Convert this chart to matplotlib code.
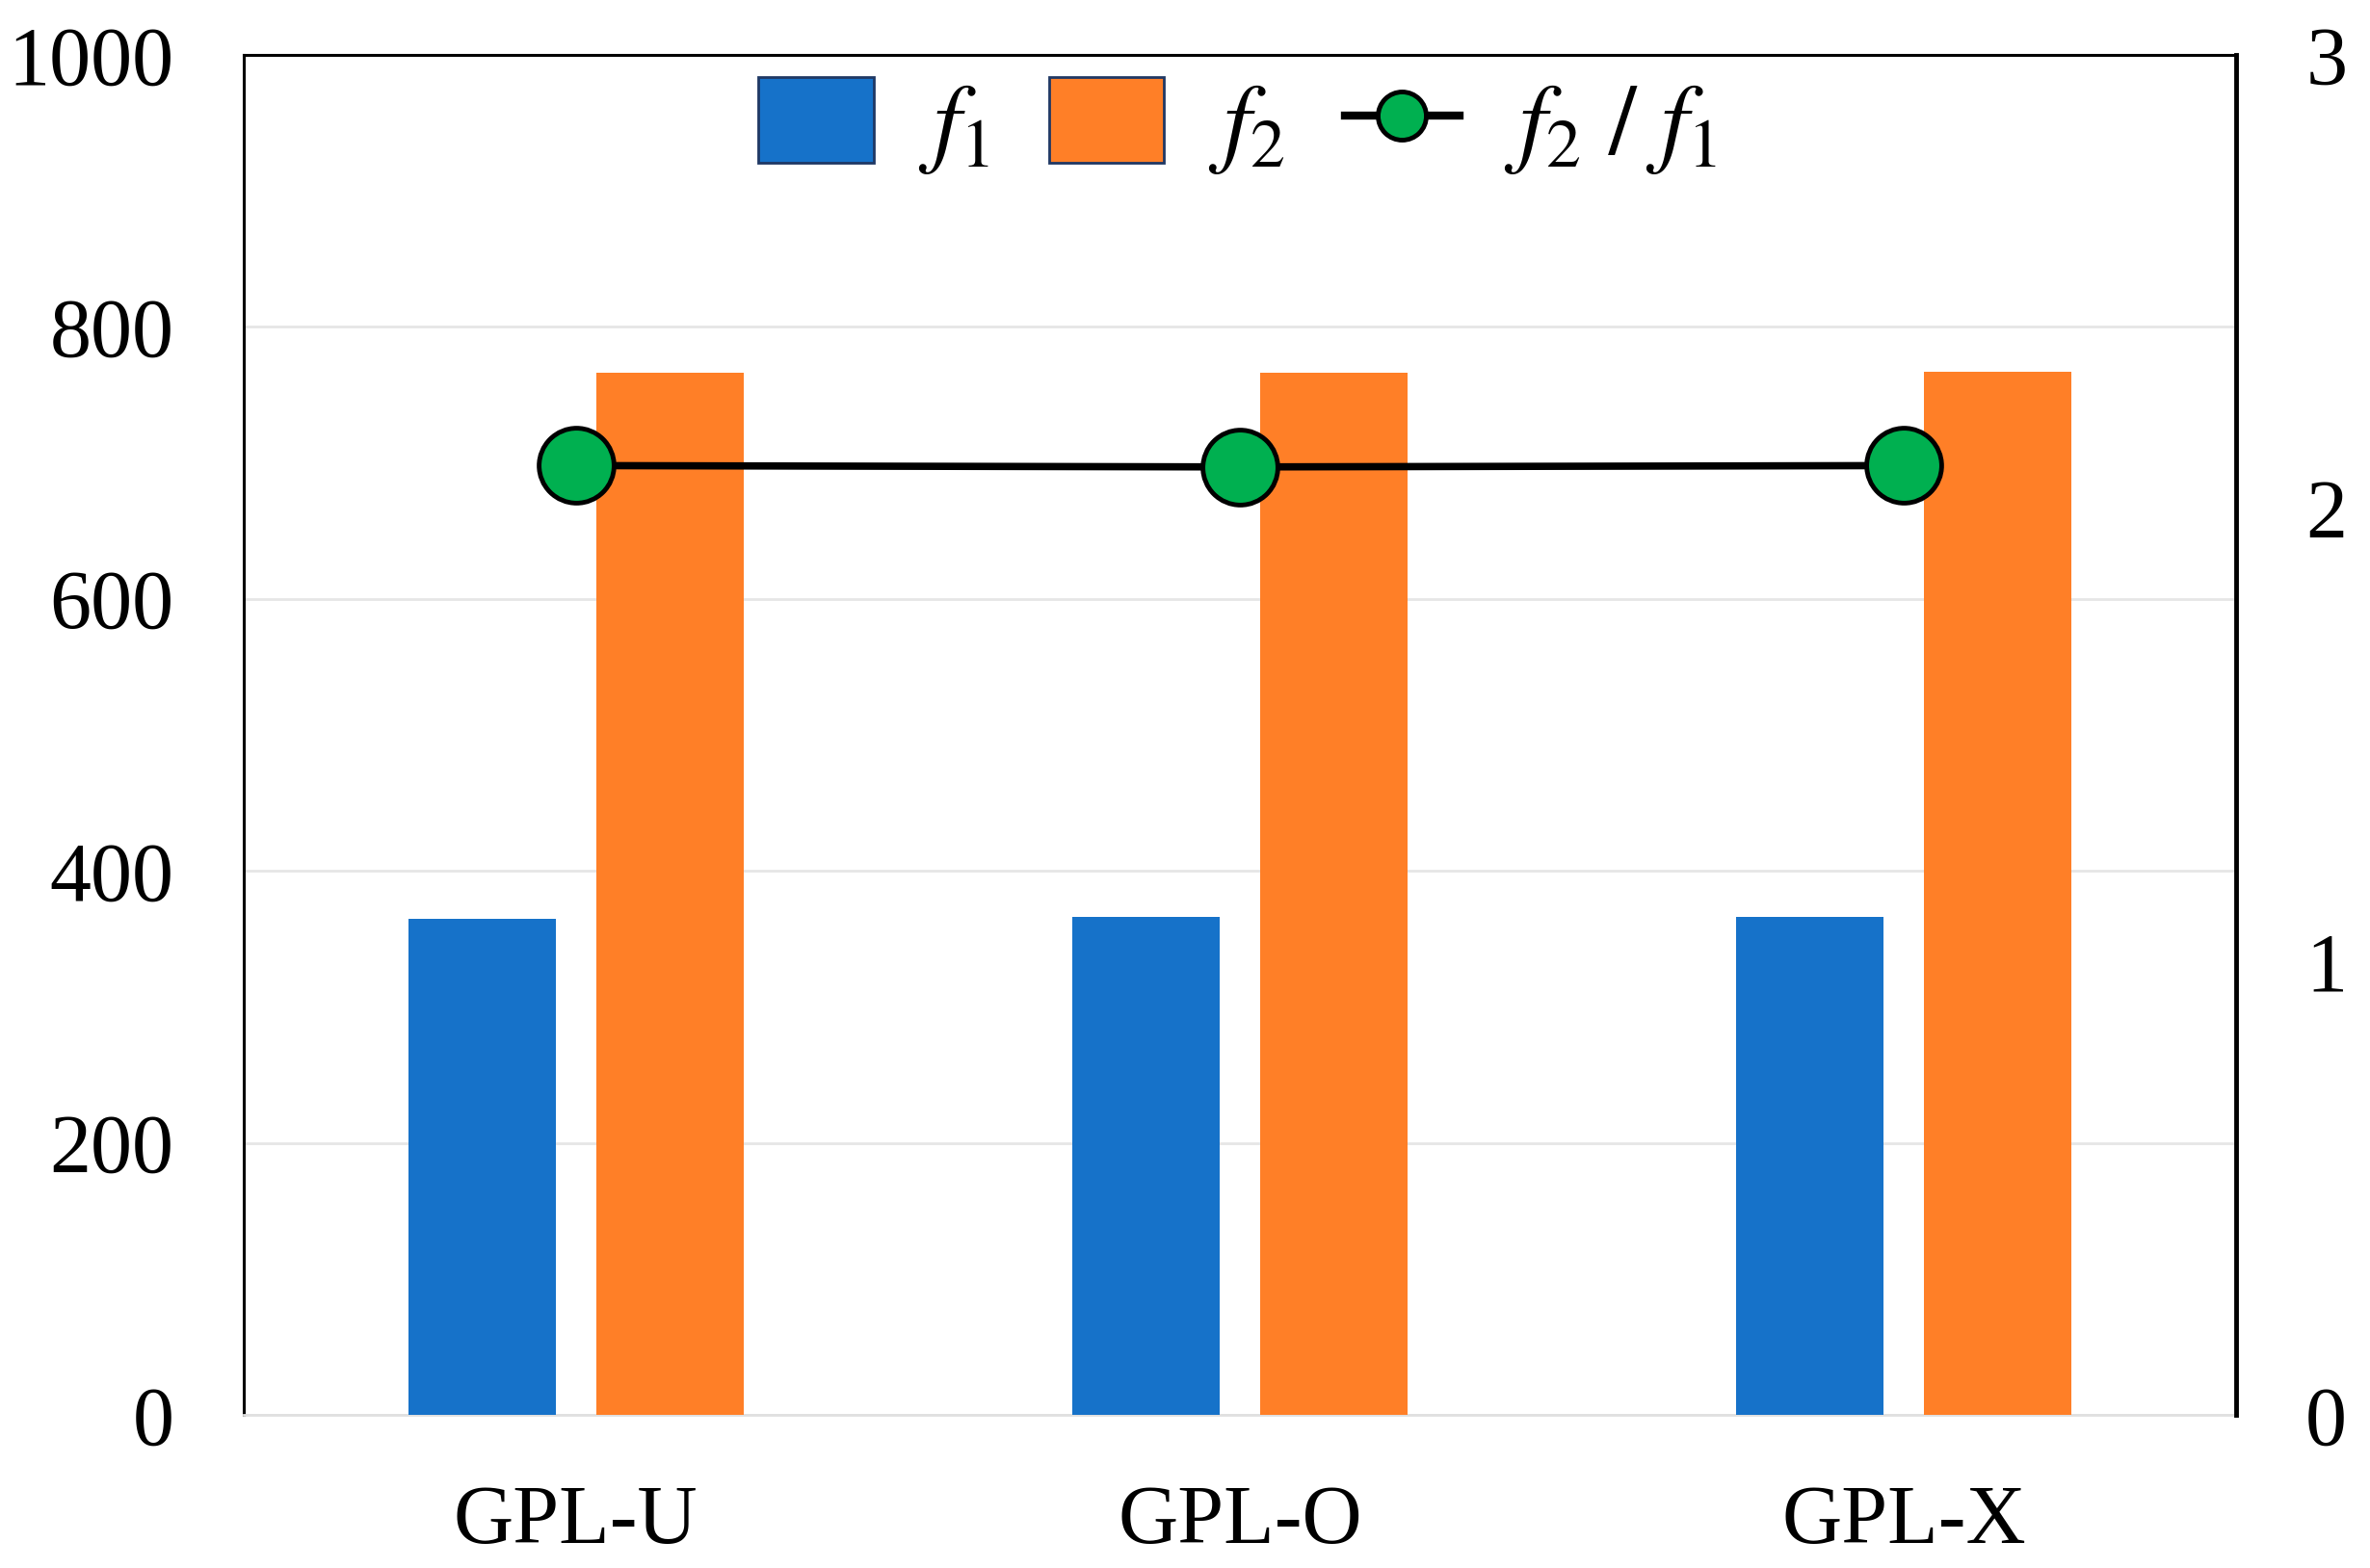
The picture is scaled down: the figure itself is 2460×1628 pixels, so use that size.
import matplotlib
matplotlib.use("Agg")
import matplotlib.pyplot as plt
from matplotlib.patches import Patch
from matplotlib.lines import Line2D
import numpy as np

categories = ["GPL-U", "GPL-O", "GPL-X"]
f1 = [365, 366, 366]
f2 = [766, 766, 767]
ratio = [2.094, 2.091, 2.094]
left_ticks = [0, 200, 400, 600, 800, 1000]
right_ticks = [0, 1, 2, 3]

plt.rcParams['font.family'] = ['Liberation Serif', 'DejaVu Serif']
plt.rcParams['mathtext.fontset'] = 'stix'

blue = '#1672C9'
orange = '#FF7F27'
green = '#00B050'
FS = 62
LFS = 74

fig = plt.figure(figsize=(24.6, 16.28), dpi=100)
ax = fig.add_axes([0.1028, 0.0977, 0.8407, 0.8673])
x = np.arange(len(categories))
w = 0.222
off = 0.1415
ax.bar(x - off, f1, w, color=blue, zorder=3)
ax.bar(x + off, f2, w, color=orange, zorder=3)
ax.set_xlim(-0.5, 2.5)
ax.set_ylim(0, 1000)
ax.set_yticks(left_ticks)
ax.set_xticks(x)
ax.set_xticklabels(categories)
ax.tick_params(axis='both', length=0, labelsize=FS, pad=52)
ax.grid(axis='y', color='#E6E6E6', linewidth=2, zorder=0)
ax.set_axisbelow(True)
for s in ['left', 'top']:
    ax.spines[s].set_color('black')
    ax.spines[s].set_linewidth(2.2)
ax.spines['right'].set_visible(False)
ax.spines['bottom'].set_color('#E0E0E0')
ax.spines['bottom'].set_linewidth(2)

ax2 = ax.twinx()
ax2.plot(x, ratio, color='black', linewidth=5.5, marker='o', markersize=56,
         markerfacecolor=green, markeredgecolor='black', markeredgewidth=3.5, zorder=5)
ax2.set_ylim(0, 3)
ax2.set_yticks(right_ticks)
ax2.tick_params(axis='y', length=0, labelsize=FS, pad=52)
for s in ['left', 'top', 'bottom']:
    ax2.spines[s].set_visible(False)
ax2.spines['right'].set_color('black')
ax2.spines['right'].set_linewidth(3.5)

handles = [
    Patch(facecolor=blue, edgecolor='#1F3864', linewidth=2),
    Patch(facecolor=orange, edgecolor='#1F3864', linewidth=2),
    Line2D([0], [0], color='black', linewidth=6, marker='o', markersize=36,
           markerfacecolor=green, markeredgecolor='black', markeredgewidth=3.5),
]
labels = [r'$f_1$', r'$f_2$', r'$f_2\ /\ f_1$']
ax2.legend(handles, labels, loc='upper center', bbox_to_anchor=(0.499, 1.02), ncol=3,
           frameon=False, fontsize=LFS, handlelength=1.16, handleheight=0.95,
           handletextpad=0.45, columnspacing=0.6, borderaxespad=0.1)

fig.savefig('out.png', dpi=100, facecolor='white')
